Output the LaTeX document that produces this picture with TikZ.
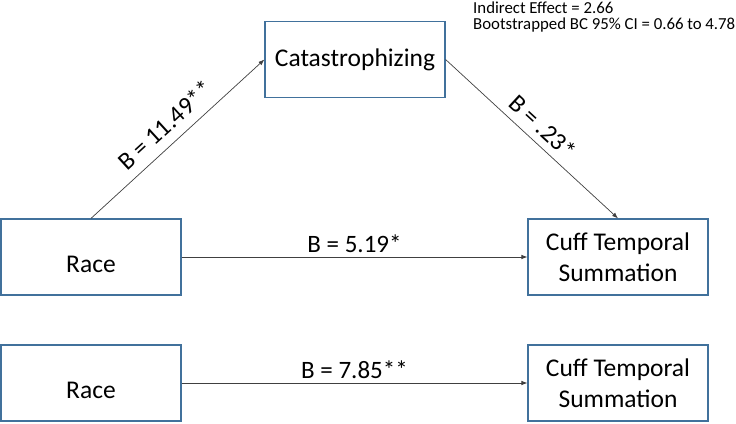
\documentclass[tikz,border=0pt]{standalone}
\usepackage{fontspec}
\setmainfont{Carlito}
\usetikzlibrary{arrows.meta}
\definecolor{boxblue}{RGB}{65,113,156}

\tikzset{
	varbox/.style={draw=boxblue, line width=1.2pt, minimum width=180pt, minimum height=76pt, inner sep=0pt, align=center, font=\fontsize{25.5}{31}\selectfont},
	lowtext/.style={text height=32pt},
	effect/.style={draw=black!75, line width=0.7pt, -{Latex[length=6pt,width=4.5pt]}},
	coef/.style={font=\fontsize{25}{30}\selectfont, text=black}
}

\begin{document}
\begin{tikzpicture}[x=1pt, y=-1pt]
			\useasboundingbox (0,0) rectangle (736,423);
			
			% mediation model
			\node[varbox, lowtext] (race) at (91,257) {Race};
			\node[varbox] (cat) at (355,59.5) {Catastrophizing};
			\node[varbox] (cts) at (618,257) {Cuff Temporal\\Summation};
			
			\draw[effect] (race.north) -- node[coef, midway, sloped, above=6pt] {B = 11.49**} (cat.west);
			\draw[effect] (cat.east) -- node[coef, midway, sloped, above=4pt] {B = .23*} (cts.north);
			\draw[effect] (race.east) -- node[coef, midway, above=1pt] {B = 5.19*} (cts.west);
			
			% indirect effect note
			\node[anchor=north west, align=left, inner sep=0pt, font=\fontsize{16.8}{16.5}\selectfont] (note) at (473,1.5) {Indirect Effect = 2.66\\Bootstrapped BC 95\% CI = 0.66 to 4.78};
			
			% total effect model
			\node[varbox, lowtext] (race2) at (91,383) {Race};
			\node[varbox] (cts2) at (618,383) {Cuff Temporal\\Summation};
			
			\draw[effect] (race2.east) -- node[coef, midway, above=1pt] {B = 7.85**} (cts2.west);
			
		\end{tikzpicture}
\end{document}
